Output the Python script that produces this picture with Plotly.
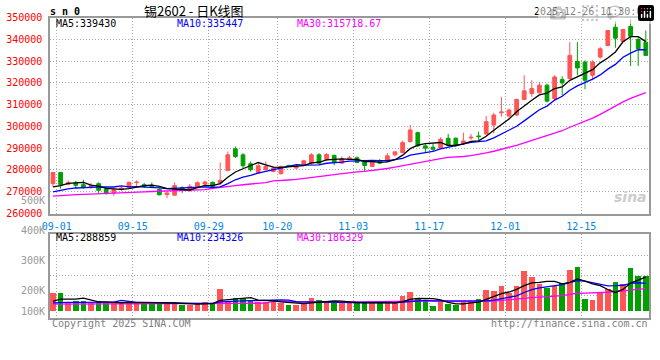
import plotly.graph_objects as go

W, H = 660, 360
def px(x): return x / W
def py(y): return 1 - y / H

# ---------------- data ----------------
open_ = [273700, 278860, 273400, 274150, 273240, 272190, 273700, 271280, 269450, 271000,
         272000, 274200, 273240, 273000, 271000, 268700, 268400, 271870, 270960, 272480,
         273540, 274300, 274000, 279780, 289680, 286940, 282830, 278570, 280090, 279330,
         278300, 282070, 280850, 282370, 283130, 286940, 284660, 286630, 283130, 285100,
         285570, 283900, 281610, 284350, 283900, 286940, 288000, 293030, 297136, 291050,
         290440, 289980, 294550, 294550, 292270, 294700, 295600, 296530, 300640, 306270,
         304750, 305200, 312350, 315100, 315400, 318900, 312800, 321490, 321950, 329860,
         329550, 323470, 331840, 337160, 345530, 339000, 345840, 339900, 338690]
high = [279000, 279000, 275200, 275000, 275500, 274000, 274300, 272000, 271400, 272500,
        274750, 275200, 274000, 274300, 271600, 270040, 274300, 272480, 273550, 274760,
        275070, 274760, 283440, 288460, 290740, 287700, 283900, 283130, 283900, 281610,
        281920, 282370, 282500, 284660, 287700, 287700, 287700, 287090, 286180, 286500,
        286180, 284660, 283900, 284960, 287700, 288460, 293480, 300640, 297600, 292270,
        291960, 295000, 296530, 295000, 297130, 296530, 297600, 304750, 306270, 313570,
        308250, 312810, 323460, 321180, 320420, 319660, 323470, 323000, 338690, 338690,
        330316, 330316, 336400, 344010, 348120, 344780, 349040, 340970, 344010]
low = [272200, 271400, 272900, 271600, 271400, 271280, 269450, 268560, 268080, 270200,
       271280, 272200, 271700, 271600, 268300, 267000, 268200, 269440, 269890, 272180,
       272940, 271720, 273240, 279330, 285420, 280850, 279330, 278570, 279780, 278870,
       277810, 281310, 280500, 282070, 282370, 282370, 284350, 282070, 283130, 284800,
       283130, 279330, 281310, 282680, 283590, 286180, 287700, 292570, 290440, 288000,
       288460, 289530, 291050, 290500, 291500, 293800, 293800, 296070, 296830, 304440,
       303220, 304750, 312050, 313570, 315100, 311000, 312050, 314330, 321950, 323470,
       317070, 321180, 331080, 337160, 336100, 338690, 327730, 327730, 332300]
close = [278860, 273240, 274150, 272920, 272190, 272785, 270640, 269270, 270960, 271700,
         274300, 274400, 272470, 272400, 268600, 269440, 272800, 270650, 272480, 274150,
         274460, 272480, 275220, 286940, 286180, 281920, 280090, 281920, 281610, 280850,
         281600, 281610, 281760, 284200, 286940, 283130, 287090, 283440, 284960, 285500,
         283440, 282070, 283440, 283130, 286480, 288310, 292570, 298350, 291048, 289980,
         289530, 294090, 291500, 291500, 293330, 295000, 295300, 302160, 305200, 306580,
         307480, 312350, 316310, 317380, 318900, 311600, 322700, 319970, 332600, 326820,
         321180, 329550, 335640, 344010, 340510, 344470, 341400, 335640, 332600]
volume = [158000, 158000, 64500, 88000, 88000, 64500, 85000, 64500, 64500, 76000,
          82000, 67500, 67500, 67500, 79000, 67500, 61600, 50000, 50000, 67500,
          79000, 67500, 190600, 79000, 111000, 111000, 88000, 79000, 79000, 79000,
          67500, 52800, 50000, 67500, 114000, 94000, 85000, 70400, 64500, 64500,
          76300, 70400, 64500, 70400, 76300, 64500, 129000, 167000, 111000, 85000,
          41000, 73000, 58700, 46900, 85000, 85000, 102700, 182000, 173000, 217000,
          152500, 217000, 349000, 296000, 236000, 199000, 215000, 242000, 360000, 385000,
          105600, 95000, 160000, 191000, 255000, 237600, 375000, 306000, 306000]

# moving-average values at the left edge (their windows start before 09-01)
ma5_head = [272200, 272800, 273800, 274000]
ma10_head = [269900, 270650, 271260, 271720, 272020, 272020, 272170, 272170, 272170]
ma30_head = [268000, 268300, 268500, 268700, 268800, 268900, 269000, 269150, 269300, 269450,
             269600, 269750, 269900, 270100, 270250, 270400, 270500, 270600, 270700, 270750,
             271000, 271600, 272100, 272500, 272800, 273200, 273600, 273900, 274200]
vma5_head = [85000, 103000, 103000, 103000]
vma10_head = [70000, 74000, 74000, 75000, 75000, 76000, 76000, 77000, 77000]
vma30_head = [59000, 59000, 59000, 59000, 59000, 59000, 59000, 59000, 59000, 60000,
              60000, 60000, 60000, 60000, 60000, 60000, 60000, 60000, 60000, 60000,
              61000, 61000, 64000, 64000, 65000, 66000, 66000, 67000, 67000]

tick_pos = [0, 10, 20, 29, 39, 49, 59, 69]
tick_labels = ["09-01", "09-15", "09-29", "10-20", "11-03", "11-17", "12-01", "12-15"]
price_ticks = [260000, 270000, 280000, 290000, 300000, 310000, 320000, 330000, 340000, 350000]
vol_labels = ["500K", "400K", "300K", "200K", "100K"]

title_code = "s n 0"
title_text = "锡2602 - 日K线图"
stamp = "2025-12-26 11:30:00"
price_legend = ["MA5:339430", "MA10:335447", "MA30:315718.67"]
vol_legend = ["MA5:288859", "MA10:234326", "MA30:186329"]
copyright_text = "Copyright 2025 SINA.COM"
url_text = "http://finance.sina.com.cn"

# ---------------- derived ----------------
def moving(vals, n, head):
    out = list(head)
    for i in range(len(head), len(vals)):
        out.append(sum(vals[i - n + 1:i + 1]) / n)
    return out

idx = list(range(len(close)))
ma5 = moving(close, 5, ma5_head)
ma10 = moving(close, 10, ma10_head)
ma30 = moving(close, 30, ma30_head)
vma5 = moving(volume, 5, vma5_head)
vma10 = moving(volume, 10, vma10_head)
vma30 = moving(volume, 30, vma30_head)

RED = "#ff5555"
GREEN = "#00a000"
BLUE = "#0000ff"
MAG = "#ff00ff"
GRID = "#aaaaaa"
BORDER = "#999999"
MONO = "DejaVu Sans Mono"

vol_colors = [RED if c >= o else GREEN for o, c in zip(open_, close)]

fig = go.Figure()
fig.add_trace(go.Candlestick(
    x=idx, open=open_, high=high, low=low, close=close,
    increasing=dict(line=dict(color=RED, width=1), fillcolor=RED),
    decreasing=dict(line=dict(color=GREEN, width=1), fillcolor=GREEN),
    whiskerwidth=0, xaxis="x", yaxis="y", hoverinfo="skip"))
for ys, col in [(ma30, MAG), (ma10, BLUE), (ma5, "#000000")]:
    fig.add_trace(go.Scatter(x=idx, y=ys, mode="lines", line=dict(color=col, width=1.3),
                             xaxis="x", yaxis="y", hoverinfo="skip"))
fig.add_trace(go.Bar(x=idx, y=volume, marker=dict(color=vol_colors, line=dict(width=0)),
                     width=0.75, xaxis="x2", yaxis="y2", hoverinfo="skip"))
for ys, col in [(vma30, MAG), (vma10, BLUE), (vma5, "#000000")]:
    fig.add_trace(go.Scatter(x=idx, y=ys, mode="lines", line=dict(color=col, width=1.3),
                             xaxis="x2", yaxis="y2", hoverinfo="skip"))

xr = [-0.395, 78.46]
grid_x = [p + 0.5 for p in tick_pos]
common_x = dict(range=xr, tickmode="array", tickvals=grid_x, showgrid=True,
                gridcolor=GRID, griddash="1px,2px", gridwidth=1, zeroline=False,
                showline=True, linecolor=BORDER, linewidth=1.5, mirror=True, ticks="",
                fixedrange=True, automargin=False)
vol_scale = 8800  # volume units per pixel
vol_range = [-7.5 * vol_scale, 76.5 * vol_scale]
vol_grid = [(310.8 - y) * vol_scale for y in (255.7, 275.7, 295.7)]

fig.update_layout(
    width=W, height=H, margin=dict(l=0, r=0, t=0, b=0, autoexpand=False),
    paper_bgcolor="white", plot_bgcolor="white", showlegend=False,
    xaxis=dict(domain=[px(50), px(649.3)], anchor="y", ticktext=tick_labels,
               tickfont=dict(family=MONO, size=10, color="#0088dd"),
               ticklabelstandoff=3, rangeslider=dict(visible=False), **common_x),
    yaxis=dict(domain=[py(213.5), py(17.5)], anchor="x", range=[260000, 350000],
               tickmode="array", tickvals=price_ticks, ticktext=[str(v) for v in price_ticks],
               tickfont=dict(family=MONO, size=10, color="#ff0000"), ticklabelstandoff=4,
               showgrid=True, gridcolor=GRID, griddash="1px,2px", gridwidth=1, zeroline=False,
               showline=True, linecolor=BORDER, linewidth=1.5, mirror=True, ticks="",
               fixedrange=True, automargin=False),
    xaxis2=dict(domain=[px(50), px(649.3)], anchor="y2", showticklabels=False, **common_x),
    yaxis2=dict(domain=[py(318.3), py(234.3)], anchor="x2", range=vol_range,
                tickmode="array", tickvals=vol_grid, showticklabels=False,
                showgrid=True, gridcolor=GRID, griddash="1px,2px", gridwidth=1, zeroline=False,
                showline=True, linecolor=BORDER, linewidth=1.5, mirror=True, ticks="",
                fixedrange=True, automargin=False),
    bargap=0,
)

ann = []
def text(x, y, s, color="#000000", size=10, anchor="left", family=MONO):
    ann.append(dict(x=px(x), y=py(y), xref="paper", yref="paper", text=s, showarrow=False,
                    xanchor=anchor, yanchor="middle",
                    font=dict(family=family, size=size, color=color)))

text(48, 12, "<b>" + title_code + "</b>", size=10)
text(194, 10, title_text, size=13, anchor="center", family="Noto Sans CJK SC")
text(649.5, 11.5, stamp, anchor="right")
for s, x, c in zip(price_legend, (53.5, 174.5, 294.5), ("#000000", BLUE, MAG)):
    text(x, 23.5, s, color=c)
for s, x, c in zip(vol_legend, (53.5, 174.5, 294.5), ("#000000", BLUE, MAG)):
    text(x, 237.8, s, color=c)
for s, y in zip(vol_labels, (200, 230.7, 260, 290.7, 311)):
    text(46.5, y, s, color="#999999", anchor="right")
text(49.5, 323.5, copyright_text, color="#808080")
text(649.5, 323.5, url_text, color="#808080", anchor="right")
text(630, 197, "<b><i>sina</i></b>", color="#cccccc", size=14, anchor="center",
     family="DejaVu Sans")
fig.update_layout(annotations=ann)

# place the figure at the window's top-left corner (no default body margin)
fig.write_html("out.html", post_script="document.body.style.margin='0px';")
